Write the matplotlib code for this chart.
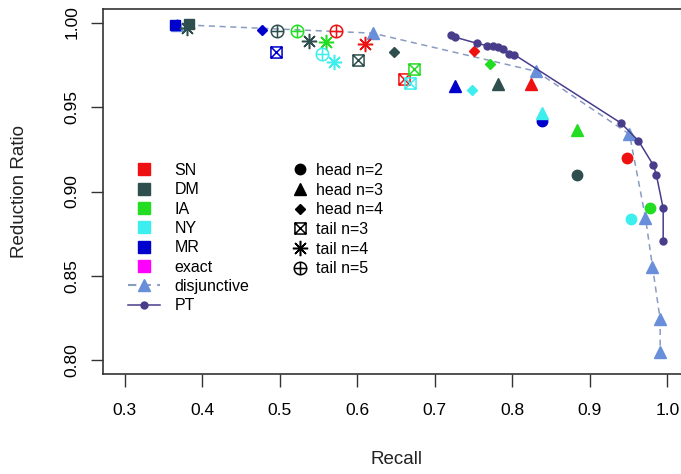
import numpy as np
import matplotlib
matplotlib.use("Agg")
import matplotlib.pyplot as plt
from matplotlib.path import Path
from matplotlib.lines import Line2D

plt.rcParams['font.family'] = ['Liberation Sans', 'DejaVu Sans']

# ---- data ----
datasets = ["SN", "DM", "IA", "NY", "MR", "exact"]
set_colors = ["#EE1111", "#2F4F4F", "#22DD22", "#3CEEEE", "#0000CC", "#FF00FF"]

# filled squares in the top-left corner
sq_set = ["MR", "DM"]
sq_recall = [0.3646, 0.3827]
sq_ratio = [0.9988, 0.9994]

# head n=2
h2_set = ["SN", "DM", "IA", "NY", "MR"]
h2_recall = [0.948, 0.884, 0.978, 0.953, 0.838]
h2_ratio = [0.920, 0.910, 0.890, 0.8835, 0.942]

# head n=3
h3_set = ["SN", "DM", "IA", "NY", "MR"]
h3_recall = [0.824, 0.782, 0.884, 0.838, 0.726]
h3_ratio = [0.9636, 0.9636, 0.9365, 0.9466, 0.9626]

# head n=4
h4_set = ["SN", "DM", "IA", "NY", "MR"]
h4_recall = [0.750, 0.647, 0.771, 0.748, 0.477]
h4_ratio = [0.983, 0.9824, 0.9755, 0.960, 0.9953]

# tail n=3
t3_set = ["SN", "DM", "IA", "NY", "MR"]
t3_recall = [0.660, 0.601, 0.673, 0.668, 0.495]
t3_ratio = [0.9664, 0.9779, 0.9725, 0.964, 0.9824]

# tail n=4
t4_set = ["SN", "DM", "IA", "NY", "DM"]
t4_recall = [0.6105, 0.5373, 0.560, 0.570, 0.3808]
t4_ratio = [0.9874, 0.9893, 0.9883, 0.9769, 0.9970]

# tail n=5
t5_set = ["SN", "DM", "IA", "NY"]
t5_recall = [0.5726, 0.496, 0.5218, 0.5541]
t5_ratio = [0.9950, 0.9948, 0.9948, 0.9814]

disj_recall = [0.3672, 0.620, 0.831, 0.9512, 0.9718, 0.9809, 0.9908, 0.9908]
disj_ratio = [0.9988, 0.9937, 0.9711, 0.9339, 0.8846, 0.8555, 0.8243, 0.8050]

pt_recall = [0.7212, 0.7264, 0.7544, 0.7673, 0.7755, 0.7819, 0.7884, 0.7961,
             0.8026, 0.9402, 0.9628, 0.9822, 0.9860, 0.9947, 0.9947]
pt_ratio = [0.9929, 0.9913, 0.9877, 0.9863, 0.9859, 0.9853, 0.9846, 0.9814,
            0.9810, 0.9405, 0.9300, 0.9154, 0.9096, 0.8900, 0.8706]

disj_color = "#6A8FDA"
disj_line = "#8A9CC0"
pt_color = "#483D8B"

color_of = dict(zip(datasets, set_colors))

# ---- custom R-like markers ----
M, L, C = Path.MOVETO, Path.LINETO, Path.CLOSEPOLY
box_x = Path([(-1, -1), (1, -1), (1, 1), (-1, 1), (-1, -1),
              (-1, -1), (1, 1), (-1, 1), (1, -1)],
             [M, L, L, L, C, M, L, M, L])
circ_plus = Path.make_compound_path(Path.unit_circle(),
                                    Path([(-1, 0), (1, 0)], [M, L]),
                                    Path([(0, -1), (0, 1)], [M, L]))
star8 = (8, 2, 0)

styles = {
    "h2": dict(marker="o", ms=7.5),
    "h3": dict(marker="^", ms=8.5),
    "h4": dict(marker="D", ms=5),
    "t3": dict(marker=box_x, ms=8, mfc="none", mew=1.1),
    "t4": dict(marker=star8, ms=11, mew=1.1),
    "t5": dict(marker=circ_plus, ms=9, mfc="none", mew=1.1),
}

# ---- figure ----
fig = plt.figure(figsize=(6.81, 4.74), dpi=100)
ax = fig.add_axes([103 / 681, 100 / 474, 586 / 681, 365 / 474])

ax.plot(disj_recall, disj_ratio, ls=(0, (4, 3)), color=disj_line, lw=1.1, zorder=2)
ax.plot(disj_recall, disj_ratio, ls="none", marker="^", ms=8, color=disj_color, zorder=3)

for s, x, y in zip(sq_set, sq_recall, sq_ratio):
    ax.plot(x, y, ls="none", marker="s", ms=7, color=color_of[s], zorder=3)

groups = [("h2", h2_set, h2_recall, h2_ratio),
          ("h3", h3_set, h3_recall, h3_ratio),
          ("h4", h4_set, h4_recall, h4_ratio),
          ("t3", t3_set, t3_recall, t3_ratio),
          ("t4", t4_set, t4_recall, t4_ratio),
          ("t5", t5_set, t5_recall, t5_ratio)]
for key, sets, xs, ys in groups:
    for s, x, y in zip(sets, xs, ys):
        ax.plot(x, y, ls="none", color=color_of[s], zorder=4, **styles[key])

ax.plot(pt_recall, pt_ratio, color=pt_color, lw=1.1, marker="o", ms=5, zorder=5)

ax.set_xlim(0.272, 1.028)
ax.set_ylim(0.792, 1.008)
ax.set_xticks(np.arange(0.3, 1.01, 0.1))
ax.set_xticklabels(["0.3", "0.4", "0.5", "0.6", "0.7", "0.8", "0.9", "1.0"])
ax.set_yticks([0.80, 0.85, 0.90, 0.95, 1.00])
ax.set_yticklabels(["0.80", "0.85", "0.90", "0.95", "1.00"], rotation=90, va="center")
ax.tick_params(direction="out", length=9, width=1, pad=12, labelsize=12.5, color="#333333")
ax.tick_params(axis="y", pad=8)

for sp in ax.spines.values():
    sp.set_color("#333333")
    sp.set_linewidth(1.2)

ax.set_xlabel("Recall", fontsize=13.5, color="#222222")
ax.xaxis.set_label_coords(0.5, -0.235)
ax.xaxis.label.set_va("center")
ax.set_ylabel("Reduction Ratio", fontsize=13.5, color="#222222")
ax.yaxis.set_label_coords(-0.142, 0.5)
ax.yaxis.label.set_va("center")

# ---- legends ----
h1 = [Line2D([], [], ls="none", marker="s", ms=8, color=c) for c in set_colors]
h1.append(Line2D([], [], ls=(0, (4, 3)), color=disj_line, marker="^", ms=8,
                 mfc=disj_color, mec=disj_color))
h1.append(Line2D([], [], color=pt_color, marker="o", ms=5, lw=1.1))
leg1 = ax.legend(h1, datasets + ["disjunctive", "PT"], loc="upper left",
                 bbox_to_anchor=(0.0427, 0.578), frameon=False, fontsize=11.5,
                 borderpad=0, borderaxespad=0, handlelength=2.0,
                 handletextpad=0.9, labelspacing=0.27)
ax.add_artist(leg1)

k = "black"
h2 = [Line2D([], [], ls="none", color=k, **styles[key]) for key in
      ["h2", "h3", "h4", "t3", "t4", "t5"]]
ax.legend(h2, ["head n=2", "head n=3", "head n=4", "tail n=3", "tail n=4", "tail n=5"],
          loc="upper left", bbox_to_anchor=(0.3225, 0.578), frameon=False,
          fontsize=11.5, borderpad=0, borderaxespad=0, handlelength=1.0,
          handletextpad=0.5, labelspacing=0.29)

fig.savefig("out.png", dpi=100)
